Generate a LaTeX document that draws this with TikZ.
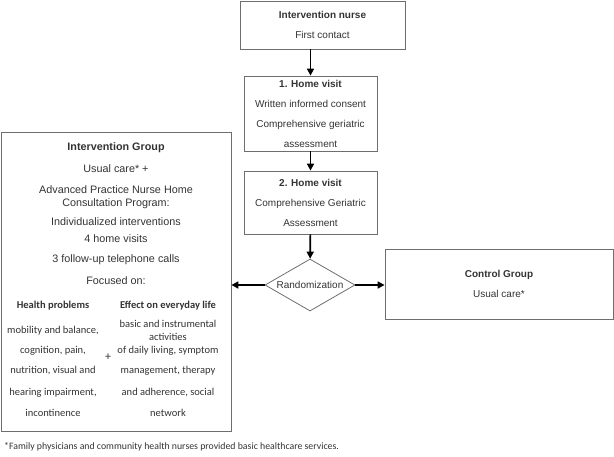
\documentclass[tikz,border=0pt]{standalone}
\usepackage{fontspec}
\setmainfont{Liberation Sans}
\newfontfamily\calfont{Carlito}
\usetikzlibrary{arrows.meta,shapes.geometric}
\definecolor{txtgray}{HTML}{333333}
\definecolor{linegray}{HTML}{6E6E6E}

\begin{document}
\begin{tikzpicture}[x=1pt,y=-1pt,
    box/.style={draw=linegray,line width=0.8pt,text=txtgray,align=center,inner sep=0pt,
      font=\fontsize{10}{20}\selectfont},
    txt/.style={text=txtgray,align=center,inner sep=0pt},
    arr/.style={-{Triangle[length=7pt,width=7pt]},line width=1.6pt}]
    \useasboundingbox (0,0) rectangle (614,457);
    \node [box,minimum width=165pt,minimum height=48pt] (A0_1) at (322.5,25)
      {\textbf{Intervention nurse}\\First contact};
    \node [box,minimum width=133pt,minimum height=75pt] (A1_1) at (310.5,113.5)
      {\textbf{1. Home visit}\\Written informed consent\\Comprehensive geriatric\\assessment};
    \node [box,minimum width=133pt,minimum height=63pt] (A2_1) at (310.5,202.5)
      {\textbf{2. Home visit}\\Comprehensive Geriatric\\Assessment};
    \node [box,diamond,aspect=1.7,minimum width=90pt,minimum height=52pt] (A3_1) at (310,285)
      {Randomization};
    \node [box,minimum width=228pt,minimum height=70pt] (A3_2) at (499,284)
      {\textbf{Control Group}\\Usual care*};
    \node [box,minimum width=230pt,minimum height=299pt] (A3_0) at (116,281.5) {};
    % text inside the intervention group
    \node [txt,anchor=north,font=\fontsize{10.8}{12.5}\selectfont] (B0) at (116,142.5)
      {\textbf{Intervention Group}\\[9.5pt]
       Usual care* +\\[8.5pt]
       Advanced Practice Nurse Home\\
       Consultation Program:\\[6.5pt]
       Individualized interventions\\[4.5pt]
       4 home visits\\[7.5pt]
       3 follow-up telephone calls\\[9.5pt]
       Focused on:};
    \node [txt,anchor=north,font=\calfont\fontsize{10.5}{13}\selectfont] (B1) at (53,300.5)
      {\textbf{Health problems}\\[12pt]
       mobility and balance,\\[7pt]
       cognition, pain,\\[7pt]
       nutrition, visual and\\[9pt]
       hearing impairment,\\[8pt]
       incontinence};
    \node [txt,anchor=north,font=\calfont\fontsize{10.5}{13}\selectfont] (B2) at (168,300.5)
      {\textbf{Effect on everyday life}\\[6pt]
       basic and instrumental\\
       activities\\
       of daily living, symptom\\[7pt]
       management, therapy\\[9pt]
       and adherence, social\\[8pt]
       network};
    \node [txt,font=\calfont\fontsize{12}{14}\selectfont] (B3) at (108,357) {+};
    \node [txt,anchor=west,font=\calfont\fontsize{9.8}{12}\selectfont] (C0) at (4,447)
      {*Family physicians and community health nurses provided basic healthcare services.};
    % arrows
    \path (A0_1.south -| A1_1) edge [arr] (A1_1);
    \path (A1_1) edge [arr] (A2_1);
    \path (A2_1) edge [arr] (A3_1);
    \path (A3_1.west) edge [arr] (A3_1.west -| A3_0.east);
    \path (A3_1.east) edge [arr] (A3_1.east -| A3_2.west);
  \end{tikzpicture}
\end{document}
